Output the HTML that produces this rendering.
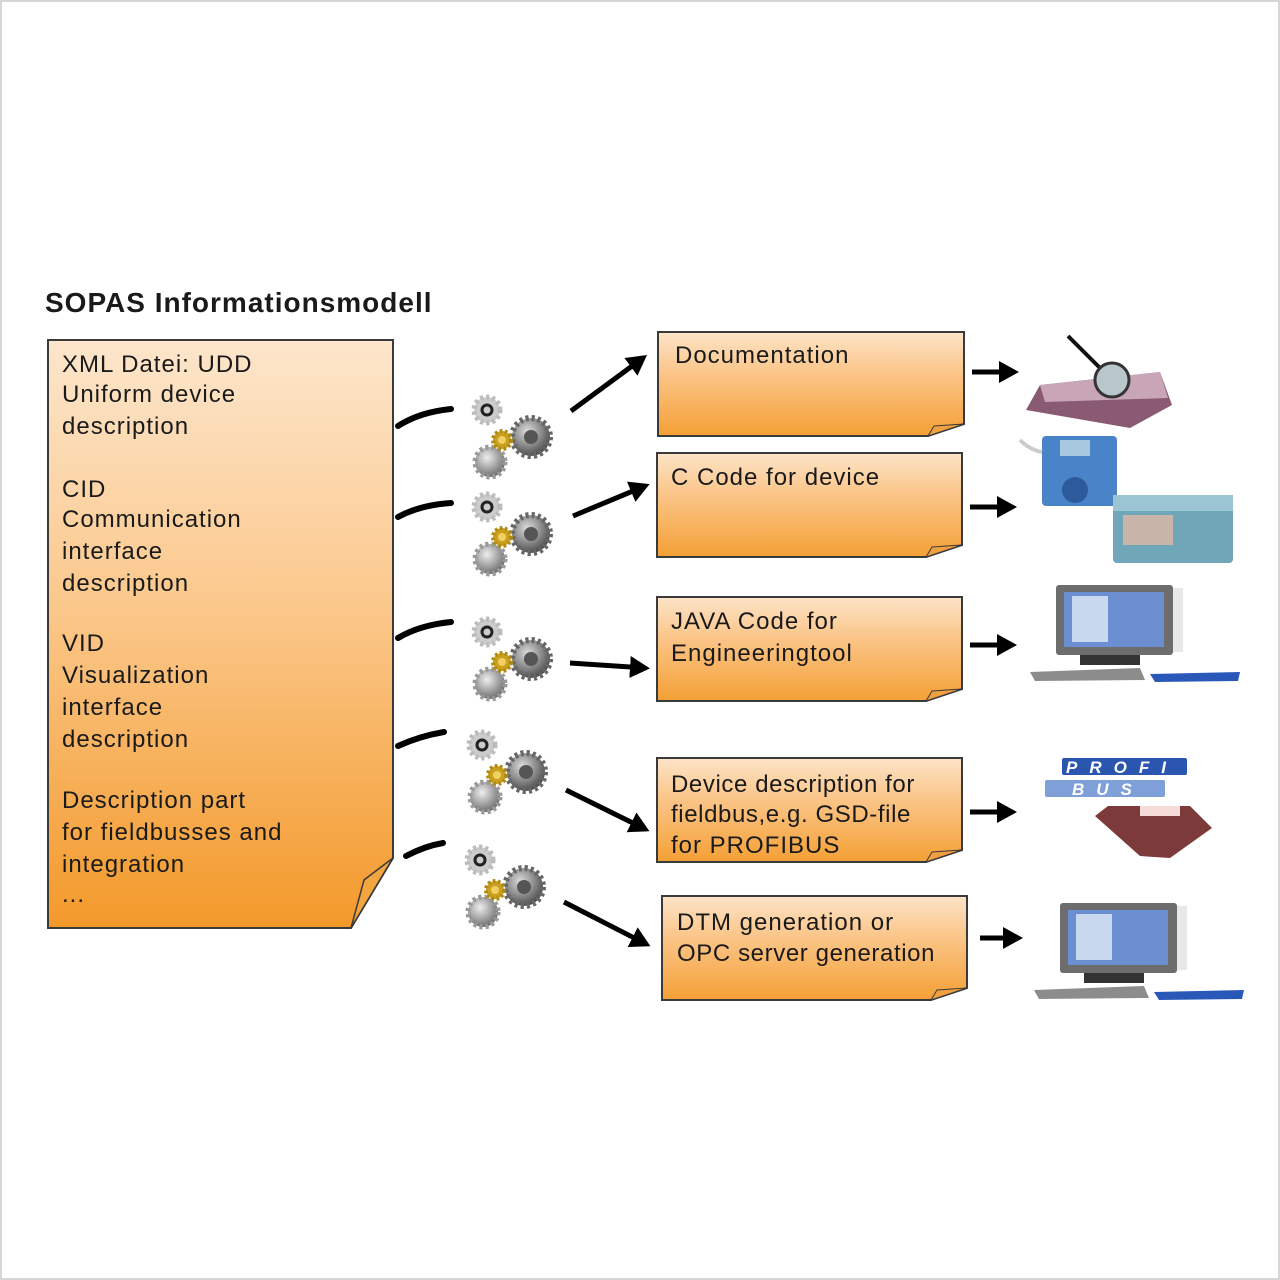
<!DOCTYPE html>
<html><head><meta charset="utf-8"><style>
html,body{margin:0;padding:0;background:#fff}
svg{display:block}
text{font-family:"Liberation Sans",Arial,sans-serif;fill:#1a1a1a}
</style></head><body>
<svg width="1280" height="1280" viewBox="0 0 1280 1280" xmlns="http://www.w3.org/2000/svg">
<defs>
<linearGradient id="og" x1="0" y1="0" x2="0" y2="1">
<stop offset="0" stop-color="#fde6cc"/><stop offset="0.45" stop-color="#fbc88c"/><stop offset="1" stop-color="#f3992a"/>
</linearGradient>
<linearGradient id="og2" x1="0" y1="0" x2="0" y2="1">
<stop offset="0" stop-color="#fde4c8"/><stop offset="0.4" stop-color="#fbc588"/><stop offset="1" stop-color="#f4a035"/>
</linearGradient>
<radialGradient id="gg" cx="0.4" cy="0.35" r="0.7"><stop offset="0" stop-color="#eee"/><stop offset="1" stop-color="#666"/></radialGradient>
<radialGradient id="gd" cx="0.4" cy="0.35" r="0.7"><stop offset="0" stop-color="#ddd"/><stop offset="1" stop-color="#444"/></radialGradient>
<marker id="ah" markerWidth="5" markerHeight="5" refX="3" refY="2.5" orient="auto" markerUnits="strokeWidth"><path d="M0,0.3 L4,2.5 L0,4.7 Z" fill="#000"/></marker>
<g id="gears">
<circle cx="487" cy="410" r="13" fill="#ccc" stroke="#bbb" stroke-width="5" stroke-dasharray="3 3"/>
<circle cx="487" cy="410" r="5" fill="none" stroke="#222" stroke-width="3"/>
<circle cx="490" cy="462" r="15" fill="url(#gg)" stroke="#999" stroke-width="5" stroke-dasharray="3 3"/>
<circle cx="531" cy="437" r="19" fill="url(#gd)" stroke="#666" stroke-width="6" stroke-dasharray="3 3"/>
<circle cx="531" cy="437" r="7" fill="#555"/>
<circle cx="502" cy="440" r="9" fill="#c9a020" stroke="#b08a10" stroke-width="4" stroke-dasharray="2.5 2.5"/>
<circle cx="502" cy="440" r="4" fill="#f0d060"/>
</g>
</defs>
<rect x="1" y="1" width="1278" height="1278" fill="#fff" stroke="#d6d6d6" stroke-width="2"/>
<text x="45" y="312" font-size="28" font-weight="bold" letter-spacing="1">SOPAS Informationsmodell</text>

<path d="M48,340 H393 V858 L351,928 H48 Z" fill="url(#og)" stroke="#3a3a3a" stroke-width="2"/>
<path d="M393,858 L351,928 L364,880 Z" fill="#f2a640" stroke="#3a3a3a" stroke-width="1.5"/>
<g font-size="24" letter-spacing="1">
<text x="62" y="372">XML Datei: UDD</text>
<text x="62" y="402">Uniform device</text>
<text x="62" y="434">description</text>
<text x="62" y="497">CID</text>
<text x="62" y="527">Communication</text>
<text x="62" y="559">interface</text>
<text x="62" y="591">description</text>
<text x="62" y="651">VID</text>
<text x="62" y="683">Visualization</text>
<text x="62" y="715">interface</text>
<text x="62" y="747">description</text>
<text x="62" y="808">Description part</text>
<text x="62" y="840">for fieldbusses and</text>
<text x="62" y="872">integration</text>
<text x="62" y="902">...</text>
</g>

<g stroke="#3a3a3a" stroke-width="2">
<path d="M658,332 H964 V424 L928,436 H658 Z" fill="url(#og2)"/>
<path d="M657,453 H962 V545 L926,557 H657 Z" fill="url(#og2)"/>
<path d="M657,597 H962 V689 L926,701 H657 Z" fill="url(#og2)"/>
<path d="M657,758 H962 V850 L926,862 H657 Z" fill="url(#og2)"/>
<path d="M662,896 H967 V988 L931,1000 H662 Z" fill="url(#og2)"/>
</g>
<g fill="#f0a040" stroke="#3a3a3a" stroke-width="1">
<path d="M964,424 L928,436 L934,426 Z"/>
<path d="M962,545 L926,557 L932,547 Z"/>
<path d="M962,689 L926,701 L932,691 Z"/>
<path d="M962,850 L926,862 L932,852 Z"/>
<path d="M967,988 L931,1000 L937,990 Z"/>
</g>
<g font-size="24" letter-spacing="1">
<text x="675" y="363">Documentation</text>
<text x="671" y="485">C Code for device</text>
<text x="671" y="629">JAVA Code for</text>
<text x="671" y="661">Engineeringtool</text>
<text x="671" y="792" letter-spacing="0.6">Device description  for</text>
<text x="671" y="822" letter-spacing="0.6">fieldbus,e.g.  GSD-file</text>
<text x="671" y="853">for PROFIBUS</text>
<text x="677" y="930">DTM  generation or</text>
<text x="677" y="961" letter-spacing="0.6">OPC server generation</text>
</g>

<use href="#gears"/>
<use href="#gears" transform="translate(0,97)"/>
<use href="#gears" transform="translate(0,222)"/>
<use href="#gears" transform="translate(-5,335)"/>
<use href="#gears" transform="translate(-7,450)"/>

<g fill="none" stroke="#000" stroke-width="6" stroke-linecap="round">
<path d="M398,426 Q420,412 451,409"/>
<path d="M398,517 Q420,505 451,503"/>
<path d="M398,638 Q420,625 451,622"/>
<path d="M398,746 Q420,736 444,732"/>
<path d="M406,856 Q425,846 443,843"/>
</g>
<g fill="none" stroke="#000" stroke-width="5">
<path d="M571,411 L643,358" marker-end="url(#ah)"/>
<path d="M573,516 L645,486" marker-end="url(#ah)"/>
<path d="M570,663 L645,668" marker-end="url(#ah)"/>
<path d="M566,790 L645,829" marker-end="url(#ah)"/>
<path d="M564,902 L646,944" marker-end="url(#ah)"/>
<path d="M972,372 L1014,372" marker-end="url(#ah)"/>
<path d="M970,507 L1012,507" marker-end="url(#ah)"/>
<path d="M970,645 L1012,645" marker-end="url(#ah)"/>
<path d="M970,812 L1012,812" marker-end="url(#ah)"/>
<path d="M980,938 L1018,938" marker-end="url(#ah)"/>
</g>

<path d="M1040,385 L1160,372 L1172,405 L1130,428 L1026,410 Z" fill="#8a5a72"/>
<path d="M1040,385 L1160,372 L1168,398 L1045,402 Z" fill="#c8a6b8"/>
<line x1="1068" y1="336" x2="1100" y2="368" stroke="#111" stroke-width="4"/>
<circle cx="1112" cy="380" r="17" fill="#b9c6cc" stroke="#333" stroke-width="3"/>

<rect x="1042" y="436" width="75" height="70" fill="#4a84c8" rx="4"/>
<rect x="1060" y="440" width="30" height="16" fill="#a8c8e0"/>
<circle cx="1075" cy="490" r="13" fill="#2c5a9a"/>
<path d="M1020,440 Q1030,450 1042,452" stroke="#ccc" stroke-width="4" fill="none"/>
<rect x="1113" y="495" width="120" height="68" fill="#6fa6b8" rx="4"/>
<rect x="1113" y="495" width="120" height="16" fill="#9bc5d2"/>
<rect x="1123" y="515" width="50" height="30" fill="#c8b4a8"/>

<g id="pc">
<rect x="1056" y="585" width="117" height="70" fill="#6d6d6d" rx="3"/>
<rect x="1064" y="592" width="100" height="55" fill="#6b8fd0"/>
<rect x="1072" y="596" width="36" height="46" fill="#c8d8ef"/>
<rect x="1173" y="588" width="10" height="64" fill="#e8e8e8"/>
<rect x="1080" y="655" width="60" height="10" fill="#333"/>
<path d="M1030,672 L1140,668 L1145,680 L1035,681 Z" fill="#8c8c8c"/>
<path d="M1150,674 L1240,672 L1238,681 L1155,682 Z" fill="#2a58b8"/>
</g>
<use href="#pc" transform="translate(4,318)"/>

<g font-size="17" font-weight="bold" font-style="italic">
<rect x="1062" y="758" width="125" height="17" fill="#2a56b0" rx="2"/>
<text x="1066" y="773" letter-spacing="12" style="fill:#fff">PROFI</text>
<rect x="1045" y="780" width="120" height="17" fill="#7f9fd8" rx="2"/>
<text x="1072" y="795" letter-spacing="12" style="fill:#fff">BUS</text>
</g>
<path d="M1108,806 L1190,806 L1212,828 L1170,858 L1140,856 L1095,816 Z" fill="#7d3a3a"/>
<rect x="1140" y="806" width="40" height="10" fill="#f5dcd8"/>
</svg>
</body></html>
